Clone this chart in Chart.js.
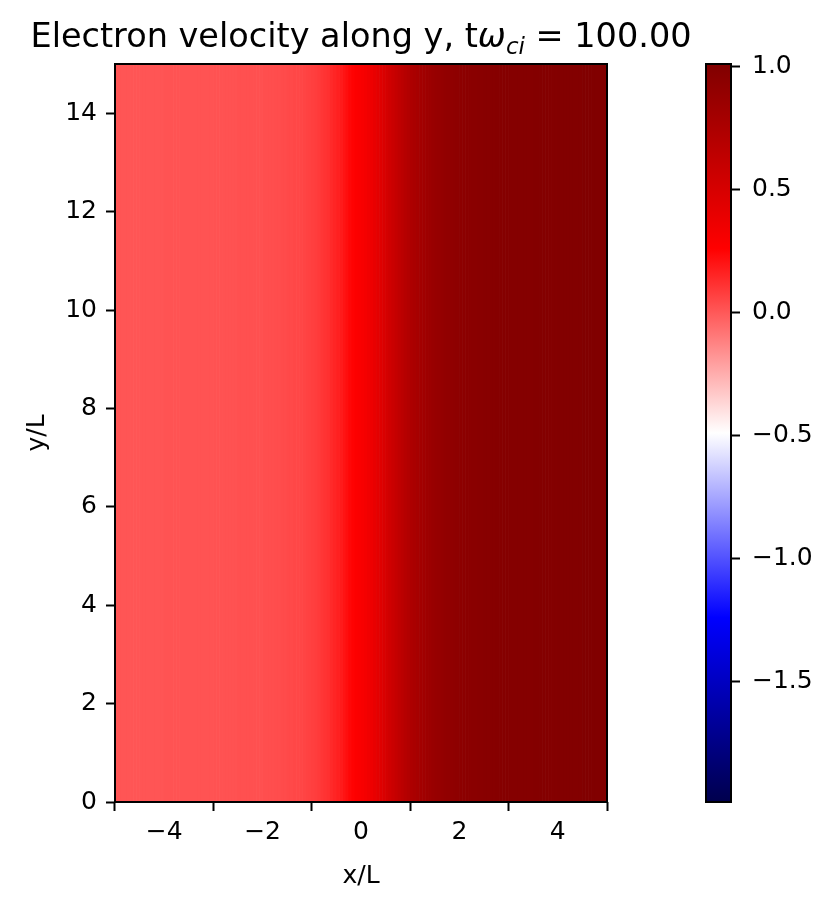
<!DOCTYPE html>
<html>
<head>
<meta charset="utf-8">
<script src="https://cdn.jsdelivr.net/npm/chart.js@4.4.0/dist/chart.umd.min.js"></script>
<style>
  html, body { margin: 0; padding: 0; background: #fff; }
  #wrap { position: relative; width: 838px; height: 910px; }
  #wrap canvas { position: absolute; left: 0; top: 0; }
</style>
</head>
<body>
<div id="wrap">
  <canvas id="main" width="838" height="910"></canvas>
  <canvas id="cbar" width="838" height="910"></canvas>
</div>
<script>
// domain and colour range
const xMin = -5, xMax = 5;
const yMin = 0, yMax = 15;
const cMin = -1.99, cMax = 1.01;

const xTicks = [-4, -2, 0, 2, 4];
const yTicks = [0, 2, 4, 6, 8, 10, 12, 14];
const cbTicks = [-1.5, -1.0, -0.5, 0.0, 0.5, 1.0];

// electron v_y across x (uniform along y), 160 cells of width 1/16, one row per unit of x
const vyProfile = [
  0.01, 0.01, 0.01, 0.01, 0.01, 0.01, 0.01, 0.01, 0.01, 0.01, 0.01, 0.01, 0.01, 0.01, 0.01, 0.01,
  0.015, 0.015, 0.015, 0.015, 0.015, 0.015, 0.015, 0.015, 0.015, 0.015, 0.015, 0.015, 0.015, 0.015, 0.015, 0.015,
  0.02, 0.02, 0.02, 0.02, 0.02, 0.02, 0.02, 0.02, 0.025, 0.025, 0.025, 0.025, 0.025, 0.025, 0.025, 0.025,
  0.03, 0.03, 0.03, 0.03, 0.035, 0.035, 0.04, 0.04, 0.045, 0.045, 0.05, 0.05, 0.055, 0.06, 0.065, 0.07,
  0.075, 0.08, 0.09, 0.10, 0.11, 0.12, 0.135, 0.15, 0.165, 0.18, 0.20, 0.22, 0.24, 0.255, 0.27, 0.285,
  0.30, 0.32, 0.34, 0.36, 0.39, 0.42, 0.45, 0.48, 0.51, 0.54, 0.57, 0.60, 0.63, 0.66, 0.69, 0.715,
  0.74, 0.76, 0.78, 0.80, 0.815, 0.83, 0.845, 0.86, 0.87, 0.88, 0.89, 0.90, 0.91, 0.915, 0.92, 0.925,
  0.93, 0.935, 0.94, 0.945, 0.95, 0.95, 0.955, 0.955, 0.96, 0.96, 0.965, 0.965, 0.97, 0.97, 0.975, 0.975,
  0.98, 0.98, 0.98, 0.98, 0.98, 0.98, 0.98, 0.98, 0.985, 0.985, 0.985, 0.985, 0.985, 0.985, 0.985, 0.985,
  0.99, 0.99, 0.99, 0.99, 0.99, 0.99, 0.99, 0.99, 1.0, 1.0, 1.0, 1.0, 1.0, 1.0, 1.0, 1.0
];

// matplotlib 'seismic'
const seismicRGB = [[0, 0, 0.3], [0, 0, 1], [1, 1, 1], [1, 0, 0], [0.5, 0, 0]];
function seismic(v) {
  let t = (v - cMin) / (cMax - cMin);
  t = Math.max(0, Math.min(1, t));
  const p = t * 4;
  const i = Math.min(3, Math.floor(p));
  const f = p - i;
  const a = seismicRGB[i], b = seismicRGB[i + 1];
  const c = a.map((ai, k) => Math.round(255 * (ai + (b[k] - ai) * f)));
  return 'rgb(' + c.join(',') + ')';
}

const fmtMinus = s => String(s).replace('-', '\u2212');

Chart.defaults.font.family = 'DejaVu Sans';
Chart.defaults.font.size = 25;
Chart.defaults.color = '#000';

const cellW = (xMax - xMin) / vyProfile.length;
const cells = vyProfile.map((v, i) => ({ x: xMin + (i + 0.5) * cellW, y: [yMin, yMax] }));

const framePlugin = {
  id: 'frame',
  afterDraw(chart) {
    const { ctx, chartArea: a } = chart;
    ctx.save();
    ctx.strokeStyle = '#000';
    ctx.lineWidth = 2;
    ctx.strokeRect(a.left, a.top, a.right - a.left, a.bottom - a.top);
    ctx.restore();
  }
};

const titlePlugin = {
  id: 'mathTitle',
  afterDraw(chart) {
    const { ctx, chartArea: a } = chart;
    const size = 33.5;
    const parts = [
      { t: 'Electron velocity along y, t', f: size + 'px "DejaVu Sans"', dy: 0 },
      { t: '\u03C9', f: 'italic ' + size + 'px "DejaVu Sans"', dy: 0 },
      { t: 'ci', f: 'italic ' + Math.round(size * 0.7) + 'px "DejaVu Sans"', dy: 7 },
      { t: ' = 100.00', f: size + 'px "DejaVu Sans"', dy: 0 }
    ];
    ctx.save();
    ctx.fillStyle = '#000';
    ctx.textBaseline = 'alphabetic';
    let total = 0;
    parts.forEach(p => { ctx.font = p.f; p.w = ctx.measureText(p.t).width; total += p.w; });
    let x = (a.left + a.right) / 2 - total / 2;
    const base = 47;
    parts.forEach(p => { ctx.font = p.f; ctx.fillText(p.t, x, base + p.dy); x += p.w; });
    ctx.restore();
  }
};

const axisTicks = {
  display: true, drawOnChartArea: false, drawTicks: true,
  tickLength: 9, tickWidth: 2, tickColor: '#000'
};

new Chart(document.getElementById('main'), {
  type: 'bar',
  data: {
    datasets: [{
      data: cells,
      backgroundColor: vyProfile.map(seismic),
      borderWidth: 0,
      barPercentage: 1,
      categoryPercentage: 1
    }]
  },
  options: {
    responsive: false,
    animation: false,
    layout: { padding: { top: 64, right: 838 - 607, left: 0, bottom: 0 } },
    plugins: { legend: { display: false }, tooltip: { enabled: false } },
    scales: {
      x: {
        type: 'linear', min: xMin, max: xMax, offset: false,
        afterBuildTicks: s => { s.ticks = xTicks.map(v => ({ value: v })); },
        afterFit: s => { s.height = 910 - 802; },
        ticks: { padding: 6, maxRotation: 0, callback: v => fmtMinus(v) },
        grid: axisTicks,
        border: { display: false },
        title: { display: true, text: 'x/L', padding: { top: 0, bottom: 19 } }
      },
      y: {
        type: 'linear', min: yMin, max: yMax,
        afterBuildTicks: s => { s.ticks = yTicks.map(v => ({ value: v })); },
        afterFit: s => { s.width = 115; },
        ticks: { padding: 9, callback: v => fmtMinus(v) },
        grid: axisTicks,
        border: { display: false },
        title: { display: true, text: 'y/L', padding: { top: 22, bottom: 0 } }
      }
    }
  },
  plugins: [framePlugin, titlePlugin]
});

new Chart(document.getElementById('cbar'), {
  type: 'bar',
  data: {
    labels: ['cb'],
    datasets: [{
      data: [[cMin, cMax]],
      borderWidth: 0,
      barPercentage: 1,
      categoryPercentage: 1,
      backgroundColor(c) {
        const chart = c.chart;
        const ys = chart.scales.y;
        if (!chart.chartArea || !ys) return 'rgba(0,0,0,0)';
        const g = chart.ctx.createLinearGradient(0, ys.getPixelForValue(cMin), 0, ys.getPixelForValue(cMax));
        seismicRGB.forEach((_, i) => g.addColorStop(i / 4, seismic(cMin + (cMax - cMin) * i / 4)));
        return g;
      }
    }]
  },
  options: {
    responsive: false,
    animation: false,
    layout: { padding: { top: 64, right: 0, left: 706, bottom: 910 - 802 } },
    plugins: { legend: { display: false }, tooltip: { enabled: false } },
    scales: {
      x: { type: 'category', display: false, offset: true },
      y: {
        type: 'linear', position: 'right', min: cMin, max: cMax,
        afterBuildTicks: s => { s.ticks = cbTicks.map(v => ({ value: v })); },
        afterFit: s => { s.width = 838 - 731; },
        ticks: { padding: 12, callback: v => fmtMinus(v.toFixed(1)) },
        grid: axisTicks,
        border: { display: false }
      }
    }
  },
  plugins: [framePlugin]
});
</script>
</body>
</html>
